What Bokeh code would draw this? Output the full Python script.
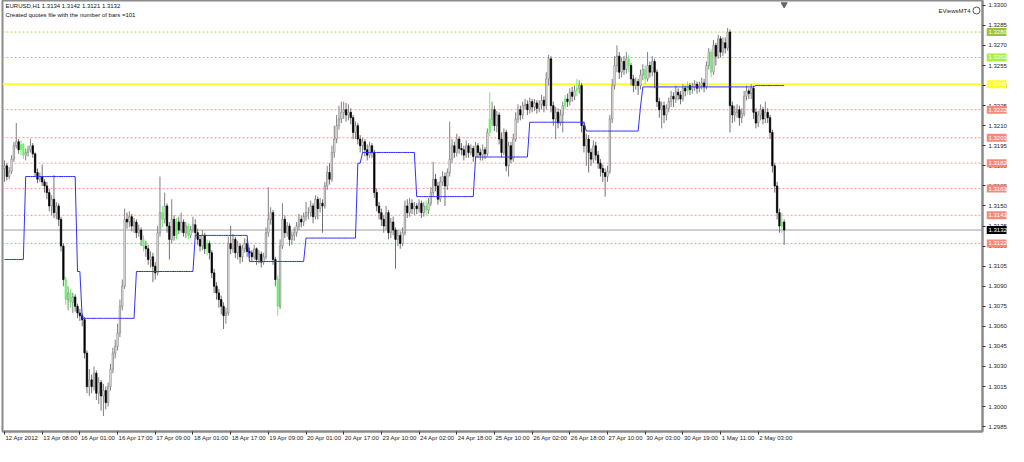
from bokeh.plotting import figure
from bokeh.layouts import row
from bokeh.models import (Range1d, LinearAxis, FixedTicker, Label, ColumnDataSource,
                          Span, CustomJSTickFormatter)
from bokeh.core.properties import value
from bokeh.embed import file_html
from bokeh.resources import INLINE

# ---------------- data (prices in pips above 1.3000) ----------------
BASE = 1.3000
first_open = 178
close_pips = [
    180, 172, 176, 185, 195, 198, 192, 196, 188, 190,
    192, 195, 189, 175, 170, 172, 168, 165, 160, 150,
    155, 145, 150, 140, 120, 95, 80, 85, 78, 82,
    75, 70, 68, 65, 40, 15, 20, 15, 25, 10,
    18, 8, 12, 3, 15, 28, 40, 45, 55, 75,
    90, 140, 138, 142, 135, 138, 130, 132, 125, 120,
    118, 110, 112, 105, 100, 130, 145, 140, 150, 135,
    125, 140, 128, 138, 132, 138, 130, 135, 128, 132,
    136, 130, 125, 120, 128, 118, 122, 115, 100, 90,
    85, 80, 75, 68, 70, 122, 118, 125, 115, 120,
    112, 118, 122, 116, 115, 112, 118, 110, 114, 108,
    112, 130, 140, 145, 110, 95, 75, 120, 140, 130,
    135, 125, 128, 130, 135, 140, 138, 142, 145, 145,
    150, 142, 155, 148, 152, 150, 165, 175, 170, 190,
    200, 210, 215, 220, 222, 218, 220, 216, 205, 210,
    200, 195, 198, 192, 188, 195, 190, 160, 150, 145,
    140, 135, 145, 130, 138, 132, 125, 128, 122, 130,
    150, 145, 152, 148, 150, 148, 152, 145, 150, 147,
    152, 160, 170, 165, 155, 168, 172, 165, 175, 185,
    195, 190, 200, 193, 192, 188, 195, 190, 193, 187,
    195, 190, 188, 192, 189, 205, 215, 222, 210, 218,
    200, 190, 205, 180, 195, 185, 200, 215, 222, 218,
    225, 226, 222, 228, 224, 227, 223, 226, 229, 225,
    245, 260, 225, 215, 220, 212, 218, 225, 230, 228,
    235, 232, 236, 238, 240, 210, 195, 200, 190, 185,
    195, 188, 182, 178, 175, 172, 176, 215, 240, 255,
    262, 250, 258, 252, 260, 255, 245, 240, 243, 240,
    248, 252, 245, 255, 250, 258, 250, 228, 222, 225,
    218, 223, 228, 232, 230, 235, 233, 230, 238, 236,
    240, 237, 239, 241, 238, 240, 242, 239, 255, 265,
    250, 270, 262, 275, 265, 272, 268, 280, 225, 218,
    220, 222, 216, 219, 232, 236, 234, 238, 220, 212,
    218, 222, 215, 220, 216, 205, 180, 165, 145, 135,
    138, 132,
]
high_pips = [
    184, 182, 179, 188, 198, 212, 200, 199, 197, 193,
    195, 200, 197, 190, 178, 175, 181, 170, 168, 163,
    158, 173, 153, 152, 142, 122, 97, 90, 88, 85,
    84, 77, 73, 70, 67, 42, 28, 24, 30, 27,
    22, 20, 17, 15, 18, 32, 44, 50, 62, 80,
    95, 148, 145, 146, 144, 141, 140, 136, 134, 128,
    124, 121, 116, 115, 108, 135, 172, 150, 160, 152,
    138, 155, 143, 141, 142, 145, 140, 138, 137, 135,
    142, 140, 133, 128, 132, 130, 125, 124, 117, 103,
    93, 88, 83, 78, 74, 127, 135, 129, 127, 124,
    122, 121, 126, 125, 119, 117, 121, 119, 117, 116,
    115, 134, 164, 149, 147, 112, 98, 125, 152, 143,
    138, 137, 131, 134, 138, 144, 143, 145, 153, 149,
    154, 152, 158, 157, 156, 155, 168, 180, 182, 195,
    210, 218, 225, 228, 228, 227, 226, 223, 218, 213,
    212, 203, 201, 200, 196, 198, 197, 192, 163, 153,
    148, 143, 150, 147, 141, 142, 134, 132, 131, 134,
    154, 155, 156, 155, 153, 152, 155, 154, 153, 154,
    156, 164, 183, 174, 168, 172, 176, 175, 178, 213,
    200, 198, 204, 202, 197, 195, 199, 197, 196, 195,
    198, 197, 193, 196, 194, 208, 235, 228, 225, 221,
    220, 205, 208, 207, 198, 198, 204, 220, 226, 225,
    228, 230, 229, 231, 230, 230, 229, 229, 233, 232,
    250, 263, 262, 228, 224, 223, 222, 228, 233, 234,
    238, 239, 240, 245, 244, 242, 213, 204, 203, 193,
    199, 198, 191, 185, 181, 178, 180, 218, 245, 262,
    270, 265, 261, 262, 265, 263, 257, 248, 246, 245,
    252, 256, 255, 265, 258, 262, 260, 252, 231, 228,
    228, 226, 231, 236, 235, 240, 238, 236, 241, 240,
    243, 242, 242, 244, 243, 243, 246, 245, 258, 268,
    267, 274, 272, 278, 277, 276, 276, 283, 282, 228,
    225, 226, 225, 223, 236, 240, 238, 241, 240, 223,
    221, 226, 224, 228, 223, 218, 207, 182, 168, 148,
    145, 140,
]
low_pips = [
    168, 169, 170, 174, 183, 193, 189, 188, 185, 184,
    187, 190, 186, 172, 167, 168, 165, 160, 155, 146,
    143, 141, 140, 135, 116, 90, 76, 72, 74, 70,
    71, 66, 64, 60, 36, 10, 8, 10, 12, 5,
    2, -3, -7, -2, 0, 12, 25, 36, 42, 52,
    72, 88, 133, 134, 131, 130, 126, 127, 120, 116,
    112, 106, 104, 93, 95, 98, 127, 134, 137, 130,
    110, 122, 124, 125, 129, 130, 127, 126, 125, 126,
    130, 127, 121, 116, 117, 114, 113, 110, 96, 85,
    80, 74, 69, 58, 62, 68, 114, 115, 111, 110,
    107, 108, 115, 112, 111, 108, 110, 106, 107, 104,
    106, 110, 127, 136, 106, 90, 68, 73, 118, 126,
    127, 120, 121, 124, 127, 132, 134, 135, 139, 140,
    142, 137, 140, 140, 145, 130, 148, 162, 166, 168,
    186, 197, 207, 212, 215, 213, 214, 211, 200, 200,
    196, 190, 190, 187, 184, 186, 186, 156, 146, 140,
    135, 130, 132, 125, 126, 128, 103, 120, 118, 120,
    128, 141, 142, 144, 143, 144, 145, 141, 142, 143,
    144, 150, 157, 161, 151, 153, 165, 150, 162, 172,
    182, 186, 187, 189, 188, 184, 186, 186, 188, 183,
    185, 186, 184, 184, 185, 187, 202, 210, 206, 205,
    196, 186, 188, 176, 172, 182, 183, 198, 212, 214,
    215, 222, 218, 219, 220, 221, 219, 220, 222, 220,
    222, 240, 220, 210, 200, 208, 210, 205, 222, 224,
    225, 228, 229, 232, 234, 205, 190, 180, 175, 180,
    182, 184, 178, 172, 168, 157, 168, 174, 212, 237,
    250, 245, 246, 248, 249, 250, 240, 235, 237, 233,
    237, 244, 241, 243, 246, 247, 238, 224, 216, 208,
    212, 214, 220, 224, 224, 227, 229, 226, 228, 232,
    233, 233, 234, 236, 234, 235, 237, 235, 237, 252,
    246, 248, 255, 260, 261, 262, 264, 266, 205, 212,
    213, 216, 210, 212, 217, 229, 230, 230, 215, 208,
    209, 214, 211, 212, 212, 200, 175, 160, 140, 130,
    130, 121,
]
green_bars = [7, 8, 26, 28, 59, 67, 73, 78, 86, 116, 179, 206, 238, 243,
              265, 272, 290, 300, 330]

# stepped blue indicator: (first bar of step, level in pips)
blue_steps = [(0, 110), (9, 172), (31, 101), (33, 66), (56, 101), (81, 128),
              (104, 108.5), (128, 126), (150, 182), (152, 190), (175, 157),
              (200, 186.6), (223, 212.6), (247, 206), (270, 224), (271, 239),
              (319, 240)]

tick_bars = [0, 16, 32, 48, 64, 80, 96, 112, 128, 144, 160, 176, 192, 208,
             224, 240, 256, 272, 288, 304, 320]
tick_labels = ["12 Apr 2012", "13 Apr 08:00", "16 Apr 01:00", "16 Apr 17:00",
               "17 Apr 09:00", "18 Apr 01:00", "18 Apr 17:00", "19 Apr 09:00",
               "20 Apr 01:00", "20 Apr 17:00", "23 Apr 10:00", "24 Apr 02:00",
               "24 Apr 18:00", "25 Apr 10:00", "26 Apr 02:00", "26 Apr 18:00",
               "27 Apr 10:00", "30 Apr 03:00", "30 Apr 19:00", "1 May 11:00",
               "2 May 03:00"]

price_ticks = [round(1.2985 + 0.0015 * k, 4) for k in range(22)]

green_levels = [1.3280, 1.3261]
yellow_level = 1.3241
red_levels = [1.3222, 1.3201, 1.3182, 1.3163, 1.3143, 1.3122]
current_price = 1.3132

header_1 = "EURUSD,H1  1.3134 1.3142 1.3121 1.3132"
header_2 = "Created quotes file with the number of bars =101"
brand = "EViewsMT4"

# ---------------- build ----------------
FONT = "Liberation Sans"
FS = 6
TOTAL_W, H = 1008, 446
X0, X1 = -0.85, 415.2
Y0, Y1 = 1.29814, 1.33036
BL, BR, BT, BB = 2, 4, 0, 15
FW = 980
W = BL + FW + BR
SIDE_W = TOTAL_W - W
FH = H - BT - BB
PX_PER_BAR = FW / (X1 - X0)


def px_to_x(px):
    return X0 + (px - BL) / FW * (X1 - X0)


def px_to_y(py):
    return Y1 - (py - BT) / FH * (Y1 - Y0)


# approximate advance widths (em) of Liberation Sans, to left-align date labels
CW = {" ": 0.278, ":": 0.278, "A": 0.667, "M": 0.833, "p": 0.556, "r": 0.333,
      "a": 0.556, "y": 0.5}


def text_w(s):
    return sum(CW.get(ch, 0.556) for ch in s) * FS


n = min(len(close_pips), len(high_pips), len(low_pips))
xs, o, h, l, c = [], [], [], [], []
prev = first_open
for i in range(n):
    oo = BASE + prev / 10000.0
    cc = BASE + close_pips[i] / 10000.0
    hh = max(BASE + high_pips[i] / 10000.0, oo, cc)
    ll = min(BASE + low_pips[i] / 10000.0, oo, cc)
    xs.append(i); o.append(oo); c.append(cc); h.append(hh); l.append(ll)
    prev = close_pips[i]

wick_col, fill_col, line_col = [], [], []
for i in range(n):
    if i in green_bars:
        wick_col.append("#6cf06c"); fill_col.append("#6cf06c"); line_col.append("#6cf06c")
    elif c[i] >= o[i]:
        wick_col.append("#808080"); fill_col.append("#ffffff"); line_col.append("#808080")
    else:
        wick_col.append("#707070"); fill_col.append("#000000"); line_col.append("#000000")

src = ColumnDataSource(dict(
    x=xs, high=h, low=l,
    top=[max(a, b) for a, b in zip(o, c)],
    bottom=[min(a, b) for a, b in zip(o, c)],
    wick=wick_col, fill=fill_col, line=line_col))

blue_x, blue_y = [], []
for i in range(n):
    v = None
    for s, val in blue_steps:
        if s <= i:
            v = val
    blue_x.append(i)
    blue_y.append(BASE + v / 10000.0)

yr = Range1d(Y0, Y1)
p = figure(width=W, height=H, output_backend="svg", toolbar_location=None,
           x_range=Range1d(X0, X1), y_range=yr,
           x_axis_location=None, y_axis_location=None,
           min_border_left=BL, min_border_right=BR, min_border_top=BT,
           min_border_bottom=BB, background_fill_color="white",
           border_fill_color="white")
p.grid.visible = False
p.outline_line_color = "#8c8c8c"
p.outline_line_width = 2

blank = CustomJSTickFormatter(code="return ''")

# right price scale: axis line and tick marks (labels drawn in the side panel)
ra = LinearAxis(ticker=FixedTicker(ticks=price_ticks), formatter=blank,
                major_tick_in=0, major_tick_out=3,
                major_tick_line_color="#333333", minor_tick_line_color=None,
                axis_line_color="#8c8c8c", axis_line_width=2,
                major_label_standoff=0, major_label_text_font_size="1px")
p.add_layout(ra, "right")

# time scale: tick marks ...
ba = LinearAxis(ticker=FixedTicker(ticks=tick_bars), formatter=blank,
                major_tick_in=0, major_tick_out=3,
                major_tick_line_color="#333333", minor_tick_line_color=None,
                axis_line_color="#8c8c8c", axis_line_width=2,
                major_label_standoff=0, major_label_text_font_size="1px")
p.add_layout(ba, "below")
# ... and left-aligned labels starting at each tick
label_pos = [b + (text_w(t) / 2 + 1) / PX_PER_BAR for b, t in zip(tick_bars, tick_labels)]
bl = LinearAxis(ticker=FixedTicker(ticks=label_pos),
                major_label_overrides={lp: t for lp, t in zip(label_pos, tick_labels)},
                major_tick_in=0, major_tick_out=0, minor_tick_line_color=None,
                axis_line_color=None, major_label_standoff=0,
                major_label_text_font=FONT, major_label_text_font_size=f"{FS}px",
                major_label_text_color="#222222")
p.add_layout(bl, "below")

# level lines
for lv in green_levels:
    p.add_layout(Span(location=lv, dimension="width", line_color="#a8d840",
                      line_dash="2 2", line_width=1, level="underlay"))
p.add_layout(Span(location=yellow_level, dimension="width", line_color="#ffff30",
                  line_width=2, level="underlay"))
for lv in red_levels:
    p.add_layout(Span(location=lv, dimension="width", line_color="#f79a8e",
                      line_dash="2 2", line_width=1, level="underlay"))
p.add_layout(Span(location=current_price, dimension="width", line_color="#a0a0a0",
                  line_width=1, level="underlay"))

# candles
p.segment(x0="x", y0="low", x1="x", y1="high", source=src, line_color="wick",
          line_width=1)
p.vbar(x="x", top="top", bottom="bottom", width=0.6, source=src,
       fill_color="fill", line_color="line", line_width=0.7)

# blue indicator
p.line(blue_x, blue_y, line_color="#3030ff", line_width=1)

# header texts
p.add_layout(Label(x=X0, y=Y1, x_offset=3, y_offset=-2, text=header_1,
                   text_font=FONT, text_font_size=f"{FS}px", text_color="#111111",
                   text_align="left", text_baseline="top"))
p.add_layout(Label(x=X0, y=Y1, x_offset=3, y_offset=-11, text=header_2,
                   text_font=FONT, text_font_size=f"{FS}px", text_color="#111111",
                   text_align="left", text_baseline="top"))
p.add_layout(Label(x=X1, y=Y1, x_offset=-12, y_offset=-10, text=brand,
                   text_font=FONT, text_font_size=f"{FS}px", text_color="#222222",
                   text_align="right", text_baseline="middle"))
p.scatter([px_to_x(976)], [px_to_y(10)], marker="circle", size=7,
          fill_color="white", line_color="#555555", line_width=1)
p.scatter([n - 1], [px_to_y(4)], marker="inverted_triangle", size=6,
          fill_color="#666666", line_color="#666666")

# ---------------- side panel: price labels and level tags ----------------
s = figure(width=SIDE_W, height=H, output_backend="svg", toolbar_location=None,
           x_range=Range1d(0, SIDE_W), y_range=yr,
           x_axis_location=None, y_axis_location=None,
           min_border_left=0, min_border_right=0, min_border_top=BT,
           min_border_bottom=BB, background_fill_color="white",
           border_fill_color="white")
s.grid.visible = False
s.outline_line_color = None

s.text(x=[2] * len(price_ticks), y=price_ticks,
       text=[f"{t:.4f}" for t in price_ticks],
       text_font=value(FONT), text_font_size=value(f"{FS}px"),
       text_color="#222222", text_align="left", text_baseline="middle")

tag_vals = green_levels + [yellow_level] + red_levels + [current_price]
tag_bg = ["#9cc23a", "#a8f040", "#ffff20"] + ["#f58a7c"] * len(red_levels) + ["#000000"]
tag_src = ColumnDataSource(dict(y=tag_vals, bg=tag_bg,
                                txt=[f"{v:.4f}" for v in tag_vals]))
s.rect(x=SIDE_W / 2 - 1, y="y", width=SIDE_W - 2, height=8, height_units="screen",
       fill_color="bg", line_color=None, source=tag_src)
s.text(x=2, y="y", text="txt", source=tag_src,
       text_font=value(FONT), text_font_size=value(f"{FS}px"),
       text_color="white", text_align="left", text_baseline="middle")

layout = row(p, s, spacing=0)
open("out.html", "w").write(file_html(layout, INLINE))
